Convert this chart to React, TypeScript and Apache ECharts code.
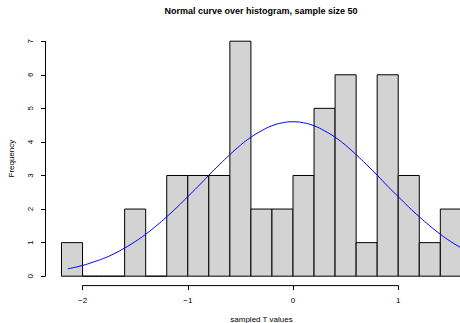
import React, { useEffect, useRef } from "react";
import * as echarts from "echarts";

const binStarts = [-2.2, -2.0, -1.8, -1.6, -1.4, -1.2, -1.0, -0.8, -0.6, -0.4, -0.2, 0.0, 0.2, 0.4, 0.6, 0.8, 1.0, 1.2, 1.4];
const binEnds = [-2.0, -1.8, -1.6, -1.4, -1.2, -1.0, -0.8, -0.6, -0.4, -0.2, 0.0, 0.2, 0.4, 0.6, 0.8, 1.0, 1.2, 1.4, 1.6];
const counts = [1, 0, 0, 2, 0, 3, 3, 3, 7, 2, 2, 3, 5, 6, 1, 6, 3, 1, 2];

const curveX = [-2.14, -2.0, -1.9, -1.8, -1.7, -1.6, -1.5, -1.4, -1.3, -1.2, -1.1, -1.0, -0.9, -0.8, -0.7, -0.6, -0.5, -0.4, -0.3, -0.2, -0.1, 0.0, 0.1, 0.2, 0.3, 0.4, 0.5, 0.6, 0.7, 0.8, 0.9, 1.0, 1.1, 1.2, 1.3, 1.4, 1.5, 1.6, 1.7];
const curveY = [0.22, 0.32, 0.42, 0.53, 0.67, 0.84, 1.03, 1.25, 1.5, 1.77, 2.06, 2.37, 2.68, 3.01, 3.32, 3.62, 3.9, 4.14, 4.33, 4.48, 4.57, 4.6, 4.57, 4.48, 4.33, 4.14, 3.9, 3.62, 3.32, 3.01, 2.68, 2.37, 2.06, 1.77, 1.5, 1.25, 1.03, 0.84, 0.67];

const xTicks = [-2, -1, 0, 1];
const yTicks = [0, 1, 2, 3, 4, 5, 6, 7];

const X_MIN = -2.352;
const X_MAX = 1.587;
const Y_MIN = -0.28;
const Y_MAX = 7.28;

const FONT = "Liberation Sans, Arial, Helvetica, sans-serif";

export default function App() {
  const ref = useRef<HTMLDivElement>(null);
  useEffect(() => {
    if (!ref.current) return;
    const chart = echarts.init(ref.current, null, { renderer: "svg" });
    const histData = counts.map((c, i) => [binStarts[i], binEnds[i], c]);
    const curveData = curveX.map((x, i) => [x, curveY[i]]);
    chart.setOption({
      animation: false,
      backgroundColor: "#ffffff",
      grid: { left: 45.5, right: 0, top: 31.8, bottom: 37.4 },
      xAxis: {
        type: "value",
        min: X_MIN,
        max: X_MAX,
        axisLine: { show: false, onZero: false },
        splitLine: { show: false },
        axisTick: { show: true, customValues: xTicks, length: 4.5, lineStyle: { color: "#000", width: 1 } },
        axisLabel: {
          customValues: xTicks,
          margin: 11,
          fontSize: 8,
          fontFamily: FONT,
          color: "#000",
          formatter: (v: number) => (v < 0 ? "\u2212" + Math.abs(v) : String(v)),
        },
      },
      yAxis: {
        type: "value",
        min: Y_MIN,
        max: Y_MAX,
        axisLine: { show: false, onZero: false },
        splitLine: { show: false },
        axisTick: { show: true, customValues: yTicks, length: 4.5, lineStyle: { color: "#000", width: 1 } },
        axisLabel: {
          customValues: yTicks,
          rotate: 90,
          margin: 11,
          fontSize: 8,
          fontFamily: FONT,
          color: "#000",
        },
      },
      graphic: [
        {
          type: "text",
          x: 261,
          y: 11,
          style: {
            text: "Normal curve over histogram, sample size 50",
            font: "bold 9px " + FONT,
            fill: "#000",
            textAlign: "center",
            textVerticalAlign: "middle",
          },
        },
        {
          type: "text",
          x: 261.5,
          y: 319.5,
          style: {
            text: "sampled T values",
            font: "8px " + FONT,
            fill: "#000",
            textAlign: "center",
            textVerticalAlign: "middle",
          },
        },
        {
          type: "text",
          x: 11,
          y: 158.6,
          rotation: Math.PI / 2,
          style: {
            text: "Frequency",
            font: "8px " + FONT,
            fill: "#000",
            textAlign: "center",
            textVerticalAlign: "middle",
          },
        },
      ],
      series: [
        {
          type: "custom",
          clip: true,
          data: histData,
          renderItem: (params: any, api: any) => {
            const x0 = api.value(0);
            const x1 = api.value(1);
            const c = api.value(2);
            const p0 = api.coord([x0, c]);
            const p1 = api.coord([x1, 0]);
            return {
              type: "rect",
              shape: { x: p0[0], y: p0[1], width: p1[0] - p0[0], height: p1[1] - p0[1] },
              style: { fill: "#d3d3d3", stroke: "#000", lineWidth: 1 },
            };
          },
        },
        {
          type: "line",
          data: curveData,
          smooth: true,
          showSymbol: false,
          symbol: "none",
          lineStyle: { color: "#0000ff", width: 1 },
        },
        {
          type: "custom",
          clip: false,
          data: [[0]],
          renderItem: (params: any, api: any) => {
            const xa = api.coord([xTicks[0], Y_MIN]);
            const xb = api.coord([xTicks[xTicks.length - 1], Y_MIN]);
            const ya = api.coord([X_MIN, yTicks[0]]);
            const yb = api.coord([X_MIN, yTicks[yTicks.length - 1]]);
            return {
              type: "group",
              children: [
                { type: "line", shape: { x1: xa[0], y1: xa[1], x2: xb[0], y2: xb[1] }, style: { stroke: "#000", lineWidth: 1 } },
                { type: "line", shape: { x1: ya[0], y1: ya[1], x2: yb[0], y2: yb[1] }, style: { stroke: "#000", lineWidth: 1 } },
              ],
            };
          },
        },
      ],
    });
    return () => chart.dispose();
  }, []);
  return <div ref={ref} style={{ width: 460, height: 323, position: "absolute", left: 0, top: 0 }} />;
}
